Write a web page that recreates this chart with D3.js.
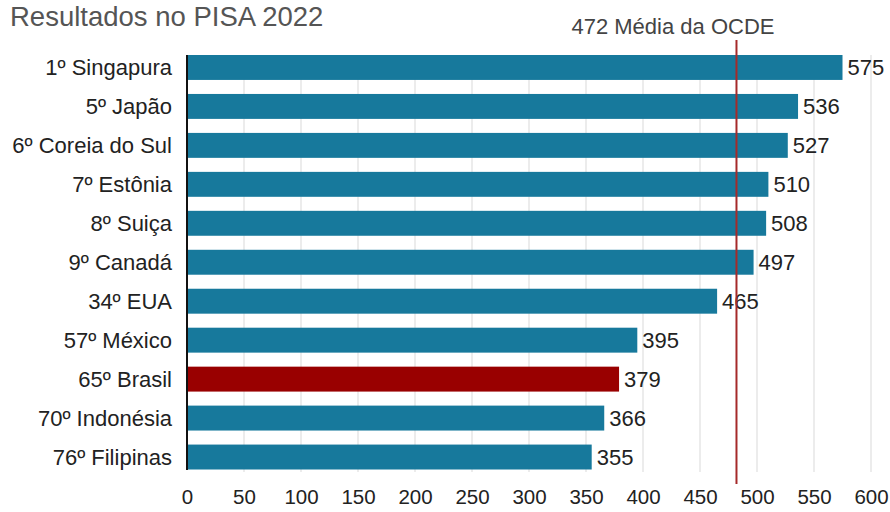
<!DOCTYPE html>
<html><head><meta charset="utf-8">
<script src="https://cdn.jsdelivr.net/npm/d3@7"></script>
<style>body{margin:0;background:#fff}svg{display:block;font-family:"Liberation Sans",Arial,sans-serif}</style>
</head><body><svg id="c" width="890" height="512"></svg>
<script>
const categories = ["1º Singapura","5º Japão","6º Coreia do Sul","7º Estônia","8º Suiça","9º Canadá","34º EUA","57º México","65º Brasil","70º Indonésia","76º Filipinas"];
const scores = [575,536,527,510,508,497,465,395,379,366,355];
const highlight = ["65º Brasil"];
const xTicks = [0,50,100,150,200,250,300,350,400,450,500,550,600];
const oecdLabel = "472 Média da OCDE";
const oecdLinePos = [482];
const title = "Resultados no PISA 2022";

const svg = d3.select("#c");
const x = d3.scaleLinear().domain([0,600]).range([187,871]);
const y = d3.scaleBand().domain(categories).range([55,469.5]).paddingInner(0.36).paddingOuter(0);

svg.append("text").attr("x",10).attr("y",26).attr("font-size",27.5).attr("fill","#555").text(title);

// gridlines
svg.append("g").selectAll("line").data(xTicks.slice(1)).join("line")
  .attr("x1",d=>x(d)).attr("x2",d=>x(d)).attr("y1",55).attr("y2",472)
  .attr("stroke","#d9d9d9").attr("stroke-width",1);

// bars
svg.append("g").selectAll("rect").data(categories).join("rect")
  .attr("x",x(0)).attr("y",d=>y(d)).attr("height",y.bandwidth())
  .attr("width",(d,i)=>x(scores[i])-x(0))
  .attr("fill",d=>highlight.includes(d)?"#990000":"#17799c");

// value labels
svg.append("g").selectAll("text").data(categories).join("text")
  .attr("x",(d,i)=>x(scores[i])+5).attr("y",d=>y(d)+y.bandwidth()/2)
  .attr("dy","0.36em").attr("font-size",22).attr("fill","#222")
  .text((d,i)=>scores[i]);

// category labels
svg.append("g").selectAll("text").data(categories).join("text")
  .attr("x",x(0)-15).attr("y",d=>y(d)+y.bandwidth()/2)
  .attr("dy","0.36em").attr("text-anchor","end").attr("font-size",22).attr("fill","#222")
  .text(d=>d);

// axis line
svg.append("line").attr("x1",x(0)).attr("x2",x(0)).attr("y1",55).attr("y2",470)
  .attr("stroke","#111").attr("stroke-width",2);

// x tick labels
const xAxis = d3.axisBottom(x).tickValues(xTicks).tickSize(0).tickPadding(0);
const ga = svg.append("g").attr("transform","translate(0,489)").call(xAxis);
ga.select(".domain").remove();
ga.selectAll("text").attr("font-size",20.5).attr("fill","#222").attr("font-family","Liberation Sans, Arial, sans-serif");

// OECD line
svg.append("g").selectAll("line").data(oecdLinePos).join("line")
  .attr("x1",d=>x(d)).attr("x2",d=>x(d)).attr("y1",40).attr("y2",484)
  .attr("stroke","#a52a2a").attr("stroke-width",2);
svg.append("text").attr("x",x(oecdLinePos[0])+38).attr("y",34).attr("text-anchor","end")
  .attr("font-size",22).attr("fill","#444").text(oecdLabel);
</script></body></html>
